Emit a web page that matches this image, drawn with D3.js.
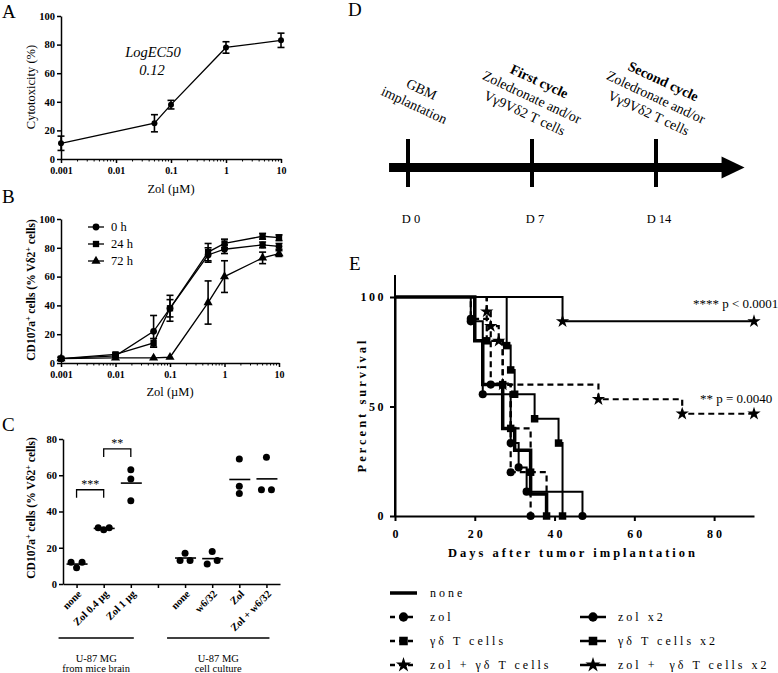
<!DOCTYPE html>
<html><head><meta charset="utf-8">
<script src="https://cdn.jsdelivr.net/npm/d3@7"></script>
<style>body{margin:0;background:#fff}svg{display:block}</style>
</head><body>
<svg id="c" width="778" height="673"></svg>
<script>
// ---------- DATA ----------
// Panel A
const aDoses = [0.001, 0.05, 0.1, 1, 10];
const aCyto = [11, 25, 38, 78, 83];
const aErr = [5, 6, 3, 4, 5];
const logTicks = [0.001, 0.01, 0.1, 1, 10];
const logTickLabels = ["0.001", "0.01", "0.1", "1", "10"];
// Panel B
const bDoses = [0.001, 0.01, 0.05, 0.1, 0.5, 1, 5, 10];
const bSeriesNames = ["0 h", "24 h", "72 h"];
const b0h = [3, 5, 22, 38, 75, 79, 82, 81];
const b0hErr = [1, 1, 11, 9, 5, 3, 2, 2];
const b24h = [3, 6, 14, 38, 77, 83, 88, 87];
const b24hErr = [1, 1, 3, 6, 6, 3, 2, 2];
const b72h = [3, 3.5, 3.5, 4, 42, 60, 73, 76];
const b72hErr = [0, 0, 0, 0, 15, 11, 4, 2];
// Panel C
const cLabels = ["none", "Zol 0.4 µg", "Zol 1 µg", "", "none", "w6/32", "Zol", "Zol + w6/32"];
const cValues = [[12, 9, 12], [31, 30, 31], [63, 58, 46], [], [17, 13, 13], [18, 11, 13], [69, 54, 50], [70, 52, 52]];
const cGroupNames = [["U-87 MG", "from mice brain"], ["U-87 MG", "cell culture"]];
const cGroupSpans = [[0, 2], [4, 7]];
const cSigPairs = [[0, 1], [1, 2]];
const cSigLabels = ["***", "**"];
const cSigLevels = [52, 74.5];
// Panel D
const tlDays = [0, 7, 14];
const tlDayLabels = ["D 0", "D 7", "D 14"];
const tlTitles = ["", "First cycle", "Second cycle"];
const tlTexts = [["GBM", "implantation"], ["Zoledronate and/or", "Vγ9Vδ2 T cells"], ["Zoledronate and/or", "Vγ9Vδ2 T cells"]];
// Panel E (day, percent survival)
const survNone = [[0, 100], [20, 80], [22, 60], [27, 40], [30, 30], [34, 10], [38, 0]];
const survZol = [[0, 100], [19, 90], [24, 60], [29, 20], [34, 0]];
const survGd = [[0, 100], [23, 80], [27, 60], [29, 40], [34, 20], [38, 0]];
const survZolGd = [[0, 100], [23, 93.3], [24, 86.7], [26, 80], [27, 60], [51, 53.3], [72, 46.7], [90, 46.7]];
const survZolX2 = [[0, 100], [19, 88.9], [22, 55.6], [29, 33.3], [31, 22.2], [33, 11.1], [47, 0]];
const survGdX2 = [[0, 100], [28, 77.8], [29, 66.7], [30, 55.6], [35, 44.4], [41, 33.3], [42, 0]];
const survZolGdX2 = [[0, 100], [42, 88.9], [90, 88.9]];
const eNames = ["none", "zol", "γδ T cells", "zol + γδ T cells", "zol x2", "γδ T cells x2", "zol +  γδ T cells x2"];
const eTicksX = [0, 20, 40, 60, 80];
const eTicksY = [0, 50, 100];
const ePvals = ["**** p < 0.0001", "** p = 0.0040"];

// ---------- DRAW ----------
const svg = d3.select("#c");
const SERIF = "Liberation Serif";

function label(t, x, y, fs, opts = {}) {
  const el = svg.append("text").attr("x", x).attr("y", y).attr("font-family", SERIF)
    .attr("font-size", fs).attr("fill", "#000").text(t);
  if (opts.bold) el.attr("font-weight", "bold");
  if (opts.italic) el.attr("font-style", "italic");
  if (opts.anchor) el.attr("text-anchor", opts.anchor);
  if (opts.ls) el.attr("letter-spacing", opts.ls);
  return el;
}
function styleAxis(g, fs, bold, sw, ls) {
  g.attr("font-family", SERIF).attr("font-size", fs);
  g.select(".domain").attr("stroke-width", sw).attr("stroke", "#000");
  g.selectAll(".tick line").attr("stroke-width", sw).attr("stroke", "#000");
  g.selectAll(".tick text").attr("font-family", SERIF).attr("font-weight", bold ? "bold" : "normal").attr("fill", "#000");
  if (ls) g.selectAll(".tick text").attr("letter-spacing", ls);
}
function supTitle(x, y, parts, fs, bold) {
  const t = svg.append("text").attr("transform", `translate(${x},${y}) rotate(-90)`)
    .attr("text-anchor", "middle").attr("font-family", SERIF).attr("font-size", fs)
    .attr("font-weight", bold ? "bold" : "normal");
  parts.forEach(p => {
    if (p.sup) t.append("tspan").attr("dy", -4).attr("font-size", fs * 0.7).text(p.t);
    else if (p.after) t.append("tspan").attr("dy", 4).text(p.t);
    else t.append("tspan").text(p.t);
  });
}

// Panel labels
label("A", 2, 18, 19); label("B", 2, 203, 19); label("C", 2, 431, 19);
label("D", 348, 16, 19); label("E", 349, 270, 19);

// minor log ticks
const minorLog = [];
for (let k = -3; k <= 0; k++) for (let m = 2; m <= 9; m++) minorLog.push(m * Math.pow(10, k));

function logPanel(x0, x1, yTop, yBot) {
  const x = d3.scaleLog().domain([0.001, 10]).range([x0, x1]);
  const y = d3.scaleLinear().domain([0, 100]).range([yBot, yTop]);
  const gy = svg.append("g").attr("transform", `translate(${x0},0)`)
    .call(d3.axisLeft(y).tickValues([0, 20, 40, 60, 80, 100]).tickSize(4).tickSizeOuter(0).tickPadding(2));
  styleAxis(gy, 10.5, true, 1.5);
  const gx = svg.append("g").attr("transform", `translate(0,${yBot})`)
    .call(d3.axisBottom(x).tickValues(logTicks).tickFormat((d, i) => logTickLabels[i]).tickSize(4).tickSizeOuter(0).tickPadding(4));
  styleAxis(gx, 10, true, 1.5);
  svg.append("g").selectAll("line").data(minorLog).join("line")
    .attr("x1", d => x(d)).attr("x2", d => x(d)).attr("y1", yBot).attr("y2", yBot + 2.5)
    .attr("stroke", "#000").attr("stroke-width", 1);
  return { x, y };
}
function errBars(x, y, xs, ys, es) {
  const g = svg.append("g").attr("stroke", "#000").attr("stroke-width", 1.6);
  xs.forEach((d, i) => {
    if (!es[i]) return;
    const xx = x(d), y1 = y(ys[i] + es[i]), y2 = y(ys[i] - es[i]);
    g.append("line").attr("x1", xx).attr("x2", xx).attr("y1", y1).attr("y2", y2);
    g.append("line").attr("x1", xx - 3.5).attr("x2", xx + 3.5).attr("y1", y1).attr("y2", y1);
    g.append("line").attr("x1", xx - 3.5).attr("x2", xx + 3.5).attr("y1", y2).attr("y2", y2);
  });
}

// ---- Panel A ----
{
  const { x, y } = logPanel(61, 281, 16, 159);
  const line = d3.line().x((d, i) => x(aDoses[i])).y(d => y(d));
  svg.append("path").attr("d", line(aCyto)).attr("fill", "none").attr("stroke", "#000").attr("stroke-width", 1.3);
  errBars(x, y, aDoses, aCyto, aErr);
  svg.append("g").selectAll("circle").data(aCyto).join("circle")
    .attr("cx", (d, i) => x(aDoses[i])).attr("cy", d => y(d)).attr("r", 3);
  svg.append("text").attr("transform", "translate(35,87) rotate(-90)").attr("text-anchor", "middle")
    .attr("font-family", SERIF).attr("font-size", 12.5).text("Cytotoxicity (%)");
  label("Zol (µM)", 171, 193, 12.5, { anchor: "middle" });
  label("LogEC50", 153, 57, 14.5, { italic: true, anchor: "middle" });
  label("0.12", 152, 75, 14.5, { italic: true, anchor: "middle" });
}

// ---- Panel B ----
const markerB = [d3.symbolCircle, d3.symbolSquare, d3.symbolTriangle];
const markerSizeB = [36, 40, 36];
{
  const { x, y } = logPanel(61, 279, 219, 363);
  const series = [b0h, b24h, b72h], errs = [b0hErr, b24hErr, b72hErr];
  const line = d3.line().x((d, i) => x(bDoses[i])).y(d => y(d));
  series.forEach((s, k) => {
    svg.append("path").attr("d", line(s)).attr("fill", "none").attr("stroke", "#000").attr("stroke-width", 1.3);
    errBars(x, y, bDoses, s, errs[k]);
    svg.append("g").selectAll("path").data(s).join("path")
      .attr("transform", (d, i) => `translate(${x(bDoses[i])},${y(d)})`)
      .attr("d", d3.symbol().type(markerB[k]).size(markerSizeB[k]));
  });
  bSeriesNames.forEach((n, k) => {
    const yy = 227 + k * 17;
    svg.append("line").attr("x1", 88).attr("x2", 104).attr("y1", yy).attr("y2", yy).attr("stroke", "#000").attr("stroke-width", 1.3);
    svg.append("path").attr("transform", `translate(96,${yy})`).attr("d", d3.symbol().type(markerB[k]).size(markerSizeB[k]));
    label(n, 111, yy + 4, 12.5);
  });
  supTitle(35, 290, [{ t: "CD107a" }, { t: "+", sup: true }, { t: " cells (% Vδ2", after: true }, { t: "+", sup: true }, { t: " cells)", after: true }], 11.5, true);
  label("Zol (µM)", 170, 396, 12.5, { anchor: "middle" });
}

// ---- Panel C ----
{
  const x = d3.scalePoint().domain(d3.range(cLabels.length)).range([63, 280]).padding(0.5);
  const y = d3.scaleLinear().domain([0, 80]).range([584, 439]);
  const gy = svg.append("g").attr("transform", "translate(63,0)")
    .call(d3.axisLeft(y).tickValues([0, 20, 40, 60, 80]).tickSize(4).tickSizeOuter(0).tickPadding(2));
  styleAxis(gy, 10.5, true, 1.5);
  const gx = svg.append("g").attr("transform", "translate(0,584)")
    .call(d3.axisBottom(x).tickSize(4).tickSizeOuter(0).tickFormat(""));
  styleAxis(gx, 10, true, 1.5);
  cLabels.forEach((l, i) => {
    if (!l) return;
    svg.append("text").attr("transform", `translate(${x(i) + 3},${592}) rotate(-45)`)
      .attr("text-anchor", "end").attr("dy", "0.35em").attr("font-family", SERIF)
      .attr("font-size", 10.5).attr("font-weight", "bold").text(l);
  });
  cValues.forEach((vals, i) => {
    if (!vals.length) return;
    const py = vals.map(v => y(v));
    const clusters = [];
    vals.forEach((v, j) => {
      let c = clusters.find(cl => cl.some(k => Math.abs(py[k] - py[j]) < 6));
      if (c) c.push(j); else clusters.push([j]);
    });
    const off = new Array(vals.length).fill(0);
    clusters.forEach(cl => {
      if (cl.length === 2) { off[cl[0]] = -5; off[cl[1]] = 5; }
      if (cl.length === 3) { off[cl[0]] = -5.5; off[cl[1]] = 0; off[cl[2]] = 5.5; }
    });
    vals.forEach((v, j) => {
      svg.append("circle").attr("cx", x(i) + off[j]).attr("cy", py[j]).attr("r", 3.5).attr("fill", "#000");
    });
    const m = d3.mean(vals);
    svg.append("line").attr("x1", x(i) - 10).attr("x2", x(i) + 11).attr("y1", y(m)).attr("y2", y(m))
      .attr("stroke", "#000").attr("stroke-width", 1.6);
  });
  cSigPairs.forEach((p, k) => {
    const yy = y(cSigLevels[k]), x1 = x(p[0]), x2 = x(p[1]);
    svg.append("path").attr("d", `M${x1},${yy + 8}V${yy}H${x2}V${yy + 8}`).attr("fill", "none")
      .attr("stroke", "#000").attr("stroke-width", 1.3);
    label(cSigLabels[k], (x1 + x2) / 2, yy - 2, 12, { anchor: "middle" });
  });
  cGroupSpans.forEach((s, k) => {
    const x1 = x(s[0]) - 18, x2 = x(s[1]) + 3;
    svg.append("line").attr("x1", x1).attr("x2", x2).attr("y1", 638).attr("y2", 638).attr("stroke", "#000").attr("stroke-width", 1.5);
    label(cGroupNames[k][0], (x1 + x2) / 2, 662, 10.5, { anchor: "middle" });
    label(cGroupNames[k][1], (x1 + x2) / 2, 672, 10.5, { anchor: "middle" });
  });
  supTitle(35, 508, [{ t: "CD107a" }, { t: "+", sup: true }, { t: " cells (% Vδ2", after: true }, { t: "+", sup: true }, { t: " cells)", after: true }], 11.5, true);
}

// ---- Panel D ----
{
  const x = d3.scaleLinear().domain([0, 14]).range([408, 656]);
  const yc = 167.5;
  svg.append("line").attr("x1", x(-1.07)).attr("x2", x(17.9)).attr("y1", yc).attr("y2", yc)
    .attr("stroke", "#000").attr("stroke-width", 9);
  svg.append("path").attr("d", `M${x(17.7)},${yc - 11}L${x(19)},${yc}L${x(17.7)},${yc + 11}Z`).attr("fill", "#000");
  tlDays.forEach((d, i) => {
    svg.append("rect").attr("x", x(d) - 2).attr("y", 139).attr("width", 4).attr("height", 48).attr("fill", "#000");
    label(tlDayLabels[i], x(d) + 3, 223, 12.5, { anchor: "middle" });
    const lines = tlTitles[i] ? [tlTitles[i], ...tlTexts[i]] : tlTexts[i];
    const cx = x(d) + (tlTitles[i] ? 0 : 10);
    const g = svg.append("g").attr("transform", `translate(${cx},97) rotate(25)`);
    const n = lines.length;
    lines.forEach((l, j) => {
      g.append("text").attr("x", 0).attr("y", (j - (n - 1) / 2) * 17.5).attr("dy", "0.35em")
        .attr("text-anchor", "middle").attr("font-family", SERIF).attr("font-size", 14)
        .attr("font-weight", (tlTitles[i] && j === 0) ? "bold" : "normal").text(l);
    });
  });
}

// ---- Panel E ----
{
  const x = d3.scaleLinear().domain([0, 90]).range([395, 754]);
  const y = d3.scaleLinear().domain([0, 100]).range([516, 297]);
  const gy = svg.append("g").attr("transform", "translate(395,0)")
    .call(d3.axisLeft(y).tickValues(eTicksY).tickSize(5).tickSizeOuter(0).tickPadding(4));
  styleAxis(gy, 12, true, 2, "2.5px");
  svg.append("line").attr("x1", 395).attr("x2", 395).attr("y1", 275).attr("y2", 516).attr("stroke", "#000").attr("stroke-width", 2);
  const gx = svg.append("g").attr("transform", "translate(0,516)")
    .call(d3.axisBottom(x).tickValues(eTicksX).tickSize(5).tickSizeOuter(0).tickPadding(8));
  styleAxis(gx, 12, true, 2, "3px");
  gx.selectAll(".tick text").attr("dx", "1.5px");

  const series = [survNone, survZol, survGd, survZolGd, survZolX2, survGdX2, survZolGdX2];
  const dashed = [false, true, true, true, false, false, false];
  const markers = [null, d3.symbolCircle, d3.symbolSquare, d3.symbolStar, d3.symbolCircle, d3.symbolSquare, d3.symbolStar];
  const msize = m => m === d3.symbolStar ? 55 : (m === d3.symbolSquare ? 56 : 52);
  const widths = [3.5, 2.2, 2.2, 2.2, 2, 2, 2];
  const line = d3.line().x(d => x(d[0])).y(d => y(d[1])).curve(d3.curveStepAfter);
  series.forEach((s, k) => {
    svg.append("path").attr("d", line(s)).attr("fill", "none").attr("stroke", "#000")
      .attr("stroke-width", widths[k]).attr("stroke-dasharray", dashed[k] ? "6,4" : null);
  });
  series.forEach((s, k) => {
    if (!markers[k]) return;
    svg.append("g").selectAll("path").data(s.slice(1)).join("path")
      .attr("transform", d => `translate(${x(d[0])},${y(d[1])})`)
      .attr("d", d3.symbol().type(markers[k]).size(msize(markers[k])));
  });
  label(ePvals[0], 693, 308, 13);
  label(ePvals[1], 700, 403, 13);
  label("Days after tumor implantation", 573, 557, 12.5, { bold: true, anchor: "middle", ls: "3px" });
  svg.append("text").attr("transform", "translate(366,405) rotate(-90)").attr("text-anchor", "middle")
    .attr("font-family", SERIF).attr("font-size", 12.5).attr("font-weight", "bold").attr("letter-spacing", "3px")
    .text("Percent survival");
  const pos = [[0, 0], [0, 1], [0, 2], [0, 3], [1, 1], [1, 2], [1, 3]];
  const rowsY = [593, 617, 641, 665];
  const colX = [[390, 417, 430], [580, 606, 618]];
  eNames.forEach((n, k) => {
    const [c, r] = pos[k];
    const yy = rowsY[r], [x1, x2, tx] = colX[c];
    svg.append("line").attr("x1", x1).attr("x2", x2).attr("y1", yy).attr("y2", yy).attr("stroke", "#000")
      .attr("stroke-width", k === 0 ? 3.5 : 2.5).attr("stroke-dasharray", dashed[k] ? "5,4" : null);
    if (markers[k]) svg.append("path").attr("transform", `translate(${(x1 + x2) / 2},${yy})`)
      .attr("d", d3.symbol().type(markers[k]).size(msize(markers[k]) * 1.3));
    label(n, tx, yy + 4, 12, { ls: "3px" }).attr("xml:space", "preserve");
  });
}
</script>
</body></html>
